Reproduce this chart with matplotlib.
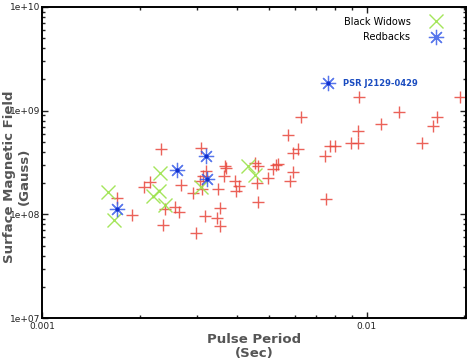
# Spin period vs surface magnetic field for millisecond pulsars

import matplotlib
matplotlib.use("Agg")
import matplotlib.pyplot as plt
from matplotlib.ticker import LogLocator, FixedLocator, NullFormatter

# Pulse periods in ms, fields in units of 1e8 G
msp_period = [1.697, 1.888, 2.06, 2.149, 2.334, 2.362, 2.39, 2.578, 2.64, 2.69,
              2.92, 2.99, 3.06, 3.10, 3.11, 3.17, 3.14, 3.21, 3.49, 3.53,
              3.46, 3.53, 3.64, 3.66, 3.70, 3.93, 3.97, 4.05, 4.52, 4.58,
              4.63, 4.63, 4.97, 5.15, 5.27, 5.34, 5.74, 5.80, 5.93, 5.93,
              6.15, 6.27, 7.44, 7.48, 7.69, 7.97, 8.97, 9.40, 9.40, 9.45,
              11.1, 12.6, 14.8, 16.0, 16.5, 19.4]
msp_field = [1.45, 0.978, 1.83, 2.05, 4.28, 0.784, 1.13, 1.185, 1.06, 1.94,
             1.62, 0.667, 2.09, 4.38, 1.74, 0.964, 2.34, 2.61, 1.74, 1.16,
             0.915, 0.773, 2.34, 2.92, 2.81, 2.09, 1.68, 1.87, 3.14, 2.02,
             2.92, 1.31, 2.25, 2.71, 3.02, 3.09, 5.88, 2.09, 2.55, 3.92,
             4.28, 8.63, 3.64, 1.41, 4.54, 4.54, 4.89, 6.33, 4.89, 13.6,
             7.44, 9.71, 4.89, 7.07, 8.63, 13.4]

bw_period = [1.60, 1.665, 2.307, 2.29, 2.20, 2.40, 3.10, 4.31, 4.52]
bw_field = [1.65, 0.876, 2.48, 1.68, 1.50, 1.23, 1.83, 2.96, 2.42]

rb_period = [1.697, 2.609, 3.196, 3.226, 7.62]
rb_field = [1.12, 2.69, 3.69, 2.20, 18.45]

psr_label = "PSR J2129-0429"
psr_period = 7.62
psr_field = 18.45

red_color = "#e8473c"
green_color = "#9be34a"
blue_color = "#3a5ee8"


def plot_ppdot():
    fig = plt.figure(figsize=(4.71, 3.64), dpi=100)
    ax = fig.add_axes([0.089, 0.126, 0.9, 0.855])

    ax.plot([p * 1e-3 for p in msp_period], [b * 1e8 for b in msp_field],
            linestyle="none", marker="+", markersize=9, markeredgewidth=1.0,
            color=red_color, alpha=0.85)
    ax.plot([p * 1e-3 for p in bw_period], [b * 1e8 for b in bw_field],
            linestyle="none", marker="x", markersize=10, markeredgewidth=1.0,
            color=green_color, alpha=0.9, label="Black Widows")
    ax.plot([p * 1e-3 for p in rb_period], [b * 1e8 for b in rb_field],
            linestyle="none", marker=(8, 2, 0), markersize=11,
            markeredgewidth=0.9, color=blue_color, alpha=0.85,
            label="Redbacks")
    # little dark dot in the centre of each redback
    ax.plot([p * 1e-3 for p in rb_period], [b * 1e8 for b in rb_field],
            linestyle="none", marker="o", markersize=2, color="#1030d0")

    ax.text(psr_period * 1e-3 * 1.11, psr_field * 1e8, psr_label,
            color="#1a4cc0", fontsize=6, fontweight="bold", va="center")

    ax.set_xscale("log")
    ax.set_yscale("log")
    ax.set_xlim(1e-3, 0.0202)
    ax.set_ylim(1e7, 1e10)

    ax.xaxis.set_major_locator(FixedLocator([1e-3, 1e-2]))
    ax.set_xticklabels(["0.001", "0.01"])
    ax.xaxis.set_minor_locator(LogLocator(base=10, subs=range(2, 10)))
    ax.xaxis.set_minor_formatter(NullFormatter())
    ax.yaxis.set_major_locator(FixedLocator([1e7, 1e8, 1e9, 1e10]))
    ax.set_yticklabels(["1e+07", "1e+08", "1e+09", "1e+10"])
    ax.yaxis.set_minor_locator(LogLocator(base=10, subs=range(2, 10)))
    ax.yaxis.set_minor_formatter(NullFormatter())

    ax.tick_params(which="both", direction="in", top=True, right=True,
                   labelsize=6.5, colors="#222222", width=1.0)
    ax.tick_params(which="major", length=4)
    ax.tick_params(which="minor", length=2.5)
    ax.tick_params(axis="x", pad=3)
    ax.tick_params(axis="y", pad=1)
    for s in ax.spines.values():
        s.set_linewidth(1.4)

    ax.set_xlabel("Pulse Period\n(Sec)", fontsize=9.5, fontweight="bold",
                  color="#555555", linespacing=1.1, labelpad=1)
    ax.set_ylabel("Surface Magnetic Field\n(Gauss)", fontsize=9.5,
                  fontweight="bold", color="#555555", linespacing=1.1)
    ax.yaxis.set_label_coords(-0.027, 0.455)

    ax.legend(loc="upper right", bbox_to_anchor=(0.975, 1.0), frameon=False,
              markerfirst=False, fontsize=7, handletextpad=1.6,
              borderaxespad=0.6, labelspacing=0.6)

    fig.savefig("out.png", dpi=100)


if __name__ == "__main__":
    plot_ppdot()
